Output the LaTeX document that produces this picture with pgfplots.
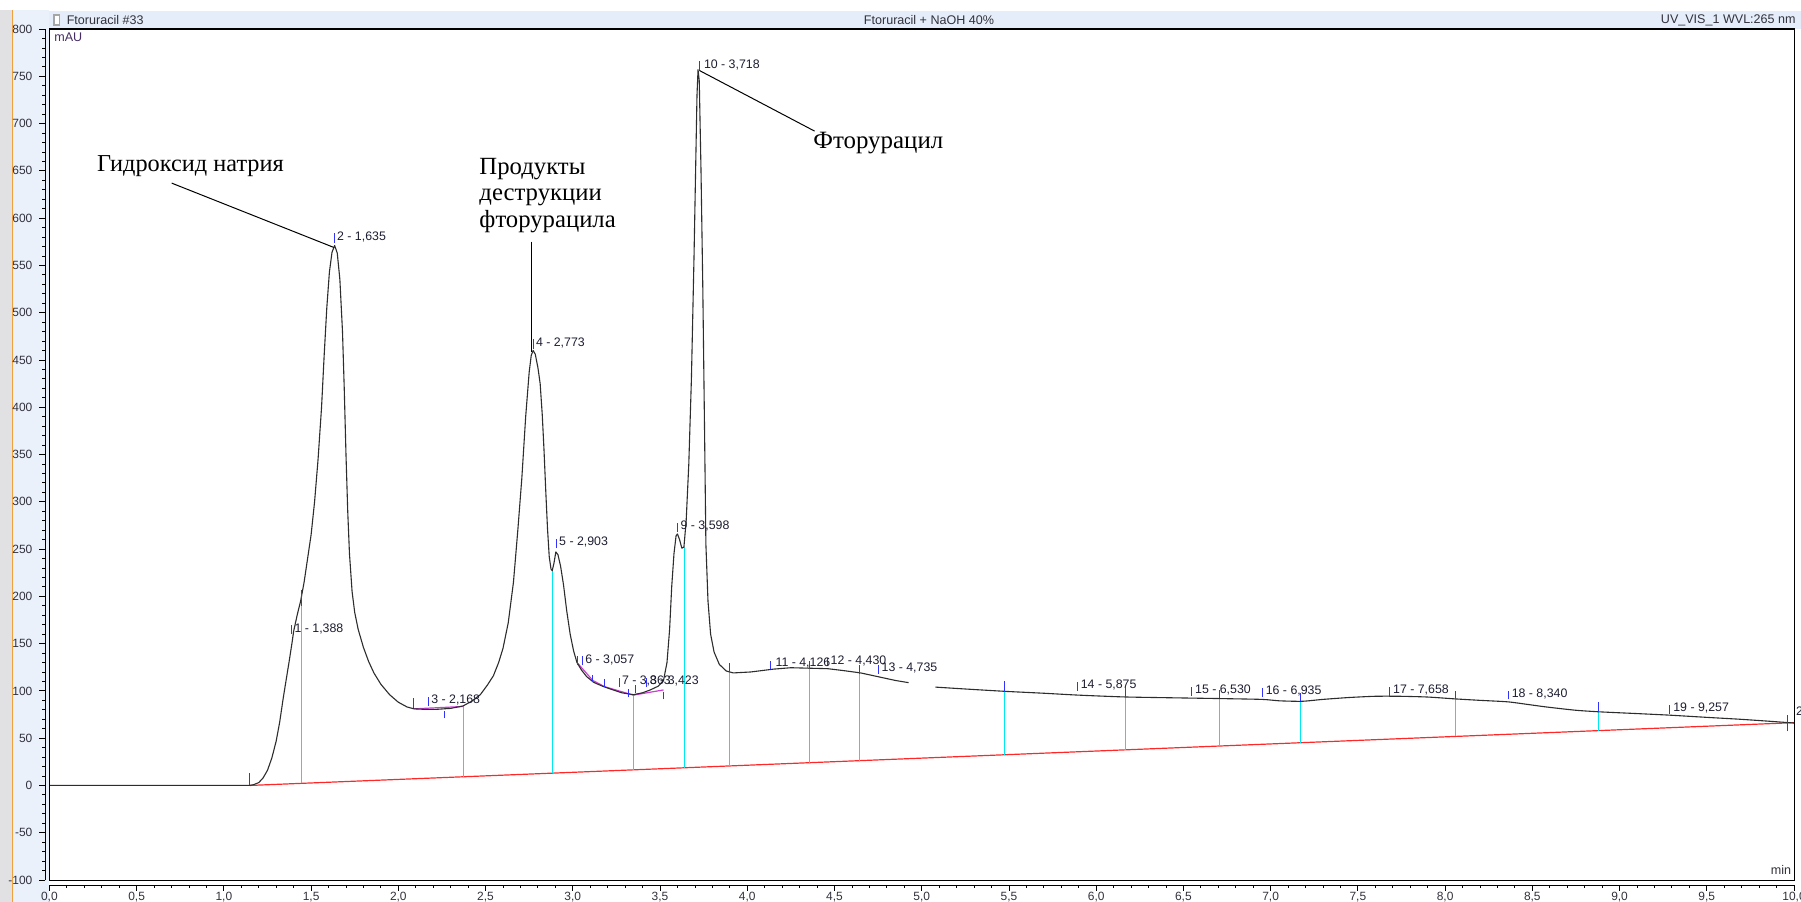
\documentclass[border=0pt]{standalone}
\usepackage{fontspec}
\setmainfont{Liberation Sans}
\newfontfamily\serifru{Liberation Serif}
\usepackage{pgfplots}
\pgfplotsset{compat=1.18}
\definecolor{curvecol}{RGB}{45,45,45}
\definecolor{basered}{RGB}{255,40,40}
\definecolor{cyanl}{RGB}{0,232,240}
\definecolor{bluet}{RGB}{50,50,255}
\definecolor{magl}{RGB}{205,60,215}
\definecolor{lblcol}{RGB}{30,30,50}
\definecolor{tickgray}{RGB}{50,50,60}
\definecolor{headblue}{RGB}{228,237,249}
\definecolor{stripblue}{RGB}{234,241,251}
\definecolor{leftgray}{RGB}{225,225,228}
\definecolor{orangel}{RGB}{240,160,60}
\definecolor{maucol}{RGB}{70,45,100}
\tikzset{lbl/.style={anchor=west, inner sep=0pt, font=\fontsize{6.2}{7}\selectfont, text=lblcol}}
\begin{document}
\begin{tikzpicture}
\path[use as bounding box] (-24.7bp,-11bp) rectangle (875.8bp,440bp);
\fill[leftgray] (-24.7bp,-11bp) rectangle (-18.7bp,435bp);
\fill[stripblue] (-18.2bp,-11bp) rectangle (-0.3bp,435bp);
\draw[orangel, line width=0.8bp] (-18.45bp,-11bp) -- (-18.45bp,435bp);
\fill[headblue] (0,425.5bp) rectangle (875.8bp,434.5bp);
\fill[white] (0,0) rectangle (872.3bp,425.5bp);
\begin{axis}[
  scale only axis, width=872.3bp, height=425.5bp,
  xmin=0, xmax=10, ymin=-100, ymax=800,
  axis x line*=bottom, axis y line*=left,
  axis x line shift=2.5bp, axis y line shift=2.2bp,
  axis line style={black, line width=0.5bp, -},
  xtick={0,0.5,...,10}, ytick={-100,-50,...,800},
  minor x tick num=4, minor y tick num=4,
  tick align=outside,
  major tick length=2.8bp, minor tick length=1.4bp,
  tick style={black, line width=0.4bp},
  ticklabel style={font=\fontsize{6}{7}\selectfont, text=tickgray},
  xticklabel style={inner sep=0pt, anchor=north, yshift=-0.6bp, /pgf/number format/.cd, use comma, fixed, fixed zerofill, precision=1},
  yticklabel style={/pgf/number format/.cd, fixed, precision=0, 1000 sep={}},
  /pgf/number format/assume math mode=true,
  clip=false,
]
% baseline
\addplot[basered, line width=0.6bp] coordinates {(1.15,0) (10,66.4)};
% cyan delimiters
\addplot[cyanl, line width=0.5bp, unbounded coords=jump] coordinates {
(1.443,2.2) (1.443,195) (1.443,nan)
(2.372,9.2) (2.372,84) (2.372,nan)
(2.885,13.0) (2.885,228) (2.885,nan)
(3.347,16.5) (3.347,96) (3.347,nan)
(3.643,18.7) (3.643,252) (3.643,nan)
(3.90,20.6) (3.90,121) (3.90,nan)
(4.354,24.0) (4.354,124) (4.354,nan)
(4.644,26.2) (4.644,119) (4.644,nan)
(5.474,32.4) (5.474,99.6) (5.474,nan)
(6.166,37.6) (6.166,93.6) (6.166,nan)
(6.706,41.7) (6.706,91.9) (6.706,nan)
(7.174,45.2) (7.174,89) (7.174,nan)
(8.057,51.8) (8.057,91.5) (8.057,nan)
(8.88,58.0) (8.88,78)
};
% skim lines
\addplot[magl, line width=0.6bp] coordinates {(2.09,81) (2.372,83.5)};
\addplot[magl, line width=0.6bp] coordinates {(3.029,129) (3.115,111) (3.182,104.5) (3.347,95.5) (3.52,101)};
% chromatogram
\addplot[curvecol, line width=0.55bp, line join=round] coordinates {
(0,0) (1.10,0) (1.146,0) (1.17,0.8) (1.20,3) (1.225,8) (1.25,16) (1.275,29) (1.30,47) (1.32,67) (1.34,92) (1.36,115) (1.375,132) (1.39,150) (1.40,163) (1.42,180) (1.44,195) (1.46,215) (1.48,240) (1.50,265) (1.52,300) (1.54,345) (1.56,400) (1.575,455) (1.59,505) (1.605,543) (1.62,564) (1.635,571) (1.65,563) (1.665,535) (1.68,480) (1.69,420) (1.70,350) (1.71,290) (1.72,245) (1.735,205) (1.75,183) (1.77,165) (1.80,146) (1.83,131) (1.86,119) (1.90,107) (1.95,96) (2.00,88) (2.05,83) (2.09,81) (2.15,80.5) (2.22,80.5) (2.30,81.5) (2.37,84) (2.42,89) (2.47,96) (2.51,106) (2.545,116) (2.575,130) (2.60,145) (2.63,172) (2.66,215) (2.685,270) (2.708,325) (2.73,390) (2.75,437) (2.762,455) (2.773,460) (2.785,456) (2.80,442) (2.813,425) (2.825,392) (2.835,355) (2.845,312) (2.855,272) (2.865,242) (2.875,229) (2.882,227) (2.892,235) (2.903,247) (2.915,244) (2.93,232) (2.947,212) (2.965,185) (2.985,160) (3.005,142) (3.024,130) (3.05,122) (3.08,115) (3.12,109) (3.17,105) (3.215,102) (3.28,98) (3.348,96) (3.40,98) (3.444,101) (3.49,105) (3.52,111) (3.54,130) (3.555,165) (3.567,210) (3.58,245) (3.592,264) (3.600,266) (3.612,260) (3.625,251) (3.637,252) (3.65,280) (3.665,340) (3.68,430) (3.695,560) (3.705,660) (3.712,730) (3.718,757) (3.725,745) (3.735,650) (3.745,530) (3.755,380) (3.763,255) (3.775,195) (3.79,160) (3.81,141) (3.84,128) (3.88,121) (3.92,119) (4.02,120) (4.15,123) (4.25,124.5) (4.35,124) (4.46,123.5) (4.55,121.5) (4.65,119) (4.75,115) (4.85,111) (4.925,108.7)
};
\addplot[curvecol, line width=0.55bp, smooth, tension=0.4] coordinates {
(5.078,104) (5.25,102) (5.47,99.6) (5.70,97.5) (5.90,95.5) (6.16,93.6) (6.40,92.8) (6.70,91.9) (6.95,91) (7.05,89.5) (7.18,89) (7.30,91) (7.45,93) (7.60,94.3) (7.74,94.3) (7.90,93.5) (8.06,91.5) (8.20,90) (8.36,88.4) (8.48,85.5) (8.58,83) (8.75,79.5) (8.89,77.8) (9.10,76) (9.29,74.3) (9.50,72) (9.69,70) (9.85,68) (10.0,66)
};
% blue peak markers
\addplot[bluet, line width=0.5bp, unbounded coords=jump] coordinates {
(1.146,0) (1.146,13) (1.146,nan)
(1.443,190) (1.443,207) (1.443,nan)
(2.089,82) (2.089,92) (2.089,nan)
(2.263,71) (2.263,79) (2.263,nan)
(3.029,127) (3.029,137) (3.029,nan)
(3.115,109) (3.115,117) (3.115,nan)
(3.182,104) (3.182,113) (3.182,nan)
(3.32,93.5) (3.32,101.5) (3.32,nan)
(3.36,98) (3.36,106) (3.36,nan)
(3.52,91) (3.52,99) (3.52,nan)
(3.90,120) (3.90,130) (3.90,nan)
(4.354,123) (4.354,132) (4.354,nan)
(4.644,118) (4.644,127) (4.644,nan)
(5.474,99) (5.474,110) (5.474,nan)
(6.166,93.6) (6.166,103) (6.166,nan)
(6.706,92) (6.706,101) (6.706,nan)
(7.174,89) (7.174,98) (7.174,nan)
(8.057,91) (8.057,99.6) (8.057,nan)
(8.88,78) (8.88,88) (8.88,nan)
(9.965,57.5) (9.965,75) (9.965,nan)
(10.0,62) (10.0,72)
};
% label ticks
\addplot[bluet, line width=0.5bp, unbounded coords=jump] coordinates {
(1.385,160) (1.385,170) (1.385,nan)
(1.632,574) (1.632,584) (1.632,nan)
(2.173,84) (2.173,94) (2.173,nan)
(2.772,462) (2.772,472) (2.772,nan)
(2.905,251) (2.905,261) (2.905,nan)
(3.055,127) (3.055,137) (3.055,nan)
(3.266,104) (3.266,114) (3.266,nan)
(3.425,104) (3.425,114) (3.425,nan)
(3.601,268) (3.601,278) (3.601,nan)
(3.727,756) (3.727,766) (3.727,nan)
(4.136,123) (4.136,132) (4.136,nan)
(4.46,126) (4.46,135) (4.46,nan)
(4.752,118) (4.752,127) (4.752,nan)
(5.893,100) (5.893,109) (5.893,nan)
(6.548,95) (6.548,104) (6.548,nan)
(6.953,94) (6.953,103) (6.953,nan)
(7.683,95) (7.683,104) (7.683,nan)
(8.363,91) (8.363,100) (8.363,nan)
(9.289,76) (9.289,85)
};
% peak labels
\node[lbl] at (axis cs:1.403,166) {1 - 1,388};
\node[lbl] at (axis cs:1.647,580) {2 - 1,635};
\node[lbl] at (axis cs:2.187,90) {3 - 2,168};
\node[lbl] at (axis cs:2.787,468) {4 - 2,773};
\node[lbl] at (axis cs:2.92,257) {5 - 2,903};
\node[lbl] at (axis cs:3.07,133) {6 - 3,057};
\node[lbl] at (axis cs:3.28,110) {7 - 3,363};
\node[lbl] at (axis cs:3.44,110) {8 - 3,423};
\node[lbl] at (axis cs:3.616,274) {9 - 3,598};
\node[lbl] at (axis cs:3.75,762) {10 - 3,718};
\node[lbl] at (axis cs:4.16,129.5) {11 - 4,126};
\node[lbl] at (axis cs:4.476,132) {12 - 4,430};
\node[lbl] at (axis cs:4.768,124.5) {13 - 4,735};
\node[lbl] at (axis cs:5.91,106) {14 - 5,875};
\node[lbl] at (axis cs:6.565,100.7) {15 - 6,530};
\node[lbl] at (axis cs:6.97,100) {16 - 6,935};
\node[lbl] at (axis cs:7.70,101) {17 - 7,658};
\node[lbl] at (axis cs:8.38,96.5) {18 - 8,340};
\node[lbl] at (axis cs:9.306,82.4) {19 - 9,257};
\node[lbl] at (axis cs:10.01,78) {20 - 9,978};
% annotations
\draw[black, line width=0.5bp] (axis cs:0.701,637) -- (axis cs:1.63,569);
\draw[black, line width=0.5bp] (axis cs:2.766,575) -- (axis cs:2.766,458);
\draw[black, line width=0.5bp] (axis cs:3.727,756) -- (axis cs:4.386,692);
\node[anchor=west, inner sep=0pt, font=\serifru\fontsize{12.2}{13.5}\selectfont] at (axis cs:0.271,655) {Гидроксид натрия};
\node[anchor=north west, inner sep=0pt, align=left, font=\serifru\fontsize{12.4}{13.4}\selectfont] at (axis cs:2.463,664) {Продукты\\деструкции\\фторурацила};
\node[anchor=west, inner sep=0pt, font=\serifru\fontsize{12.5}{13.5}\selectfont] at (axis cs:4.377,679.6) {Фторурацил};
\end{axis}
\draw[black, line width=0.5bp] (0,0) rectangle (872.3bp,425.5bp);
\draw[black, line width=1bp] (0,425.5bp) -- (872.3bp,425.5bp);
\fill[gray!70] (2bp,427bp) rectangle (5.5bp,433bp);
\fill[white] (2.8bp,428bp) rectangle (4.7bp,432bp);
\node[anchor=west, inner sep=0pt, font=\fontsize{6.3}{7}\selectfont, text=tickgray] at (8.5bp,430bp) {Ftoruracil \#33};
\node[anchor=center, inner sep=0pt, font=\fontsize{6.3}{7}\selectfont, text=tickgray] at (439.8bp,430bp) {Ftoruracil + NaOH 40\%};
\node[anchor=east, inner sep=0pt, font=\fontsize{6.3}{7}\selectfont, text=tickgray] at (873.3bp,430bp) {UV\_VIS\_1 WVL:265 nm};
\node[anchor=west, inner sep=0pt, font=\fontsize{6.3}{7}\selectfont, text=maucol] at (2.3bp,421.5bp) {mAU};
\node[anchor=east, inner sep=0pt, font=\fontsize{6.3}{7}\selectfont, text=tickgray] at (871bp,5bp) {min};
\end{tikzpicture}
\end{document}
